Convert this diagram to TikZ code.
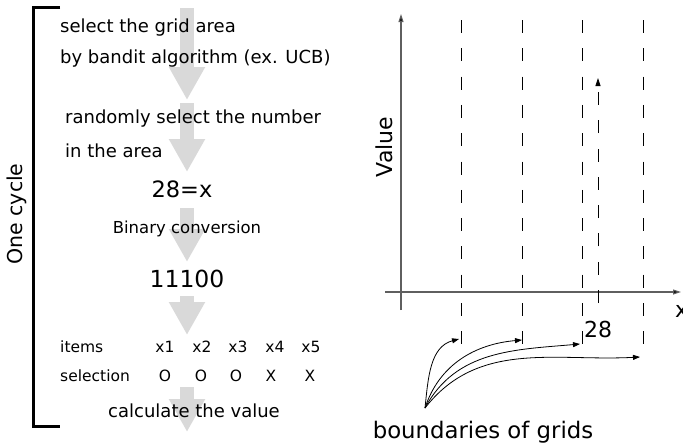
\documentclass[tikz,border=0pt]{standalone}
\usepackage{fontspec}
\setmainfont{DejaVu Sans}
\usetikzlibrary{arrows.meta,positioning}
\definecolor{flowgrey}{RGB}{217,217,217}
\definecolor{axisgrey}{RGB}{95,95,95}

\begin{document}
\begin{tikzpicture}[x=1pt,y=-1pt,
    t/.style={inner sep=0pt,anchor=base west,font=\fontsize{18}{20}\selectfont},
    tc/.style={inner sep=0pt,anchor=base},
    small/.style={font=\fontsize{15.5}{17}\selectfont},
    flow/.style={draw=flowgrey,line width=14pt,-{Triangle[width=34pt,length=33pt]}},
    ax/.style={draw=axisgrey,line width=1.1pt,-{Triangle[length=8pt,width=5pt,fill=black]}},
    grid/.style={dash pattern=on 13pt off 15.3pt,line width=0.8pt},
    bnd/.style={-{Triangle[length=7pt,width=5pt]},line width=0.8pt}]
\useasboundingbox (0,0) rectangle (683,447);

% grey flow arrows behind the text
\foreach \ys/\ye in {8/100,103/172,208/262,296/335,387/432}
  \draw[flow] (187,\ys) -- (187,\ye);

% bracket for one cycle
\draw[line width=3pt] (60,7) -- (33.5,7) -- (33.5,426) -- (60,426);
\node[tc,rotate=90,font=\fontsize{20.5}{22}\selectfont] (cyc) at (23,214) {One cycle};

% steps
\node[t] (sel1) at (60,32) {select the grid area};
\node[t] (sel2) at (60,63) {by bandit algorithm (ex. UCB)};
\node[t] (rnd1) at (65,123) {randomly select the number};
\node[t] (rnd2) at (65,157) {in the area};
\node[tc,font=\fontsize{22.5}{24}\selectfont] (num) at (182,197) {28=x};
\node[tc,font=\fontsize{16.5}{18}\selectfont] (conv) at (187,233) {Binary conversion};
\node[tc,font=\fontsize{23.5}{25}\selectfont] (bits) at (187,287) {11100};
\node[t,small] (items) at (60,352) {items};
\node[t,small] (selrow) at (60,381) {selection};
\foreach \xa/\xb/\i/\s in {165/165/1/O,202/201/2/O,238/236/3/O,275/271/4/X,311/310/5/X}{
  \node[tc,small] (it\i) at (\xa,352) {x\i};
  \node[tc,small] (s\i) at (\xb,381) {\s};
}
\node[tc,font=\fontsize{18}{20}\selectfont] (calc) at (194,417) {calculate the value};

% value plot
\coordinate (yb) at (401,310);
\coordinate (yt) at (401,14);
\coordinate (xl) at (385,292);
\coordinate (xr) at (681,292);
\draw[ax] (yb) -- (yt);
\draw[ax] (xl) -- (xr);
\node[tc,rotate=90,font=\fontsize{22}{24}\selectfont] (val) at (392,147) {Value};
\node[t,font=\fontsize{22}{24}\selectfont] (xlab) at (675,317) {x};

\foreach \x/\k in {461/1,522/2,582/3,643/4}
  \draw[grid] (\x,20) -- (\x,345);

\coordinate (p28) at (598,303);
\coordinate (v28) at (598,78);
\draw[grid,-{Triangle[length=8pt,width=5pt]}] (p28) -- (v28);
\node[tc,font=\fontsize{22}{24}\selectfont] (n28) at (598,337) {28};

% boundaries
\coordinate (src) at (425,408);
\coordinate (b1) at (459,339);
\coordinate (b2) at (522,340);
\coordinate (b3) at (580,344);
\coordinate (b4) at (640,357);
\draw[bnd] (src) to[out=84,in=195] (b1);
\draw[bnd] (src) to[out=72,in=185] (b2);
\draw[bnd] (src) to[out=62,in=185] (b3);
\draw[bnd] (src) to[out=52,in=183] (b4);
\node[tc,font=\fontsize{22.8}{25}\selectfont] (blab) at (483,438) {boundaries of grids};
\end{tikzpicture}
\end{document}
